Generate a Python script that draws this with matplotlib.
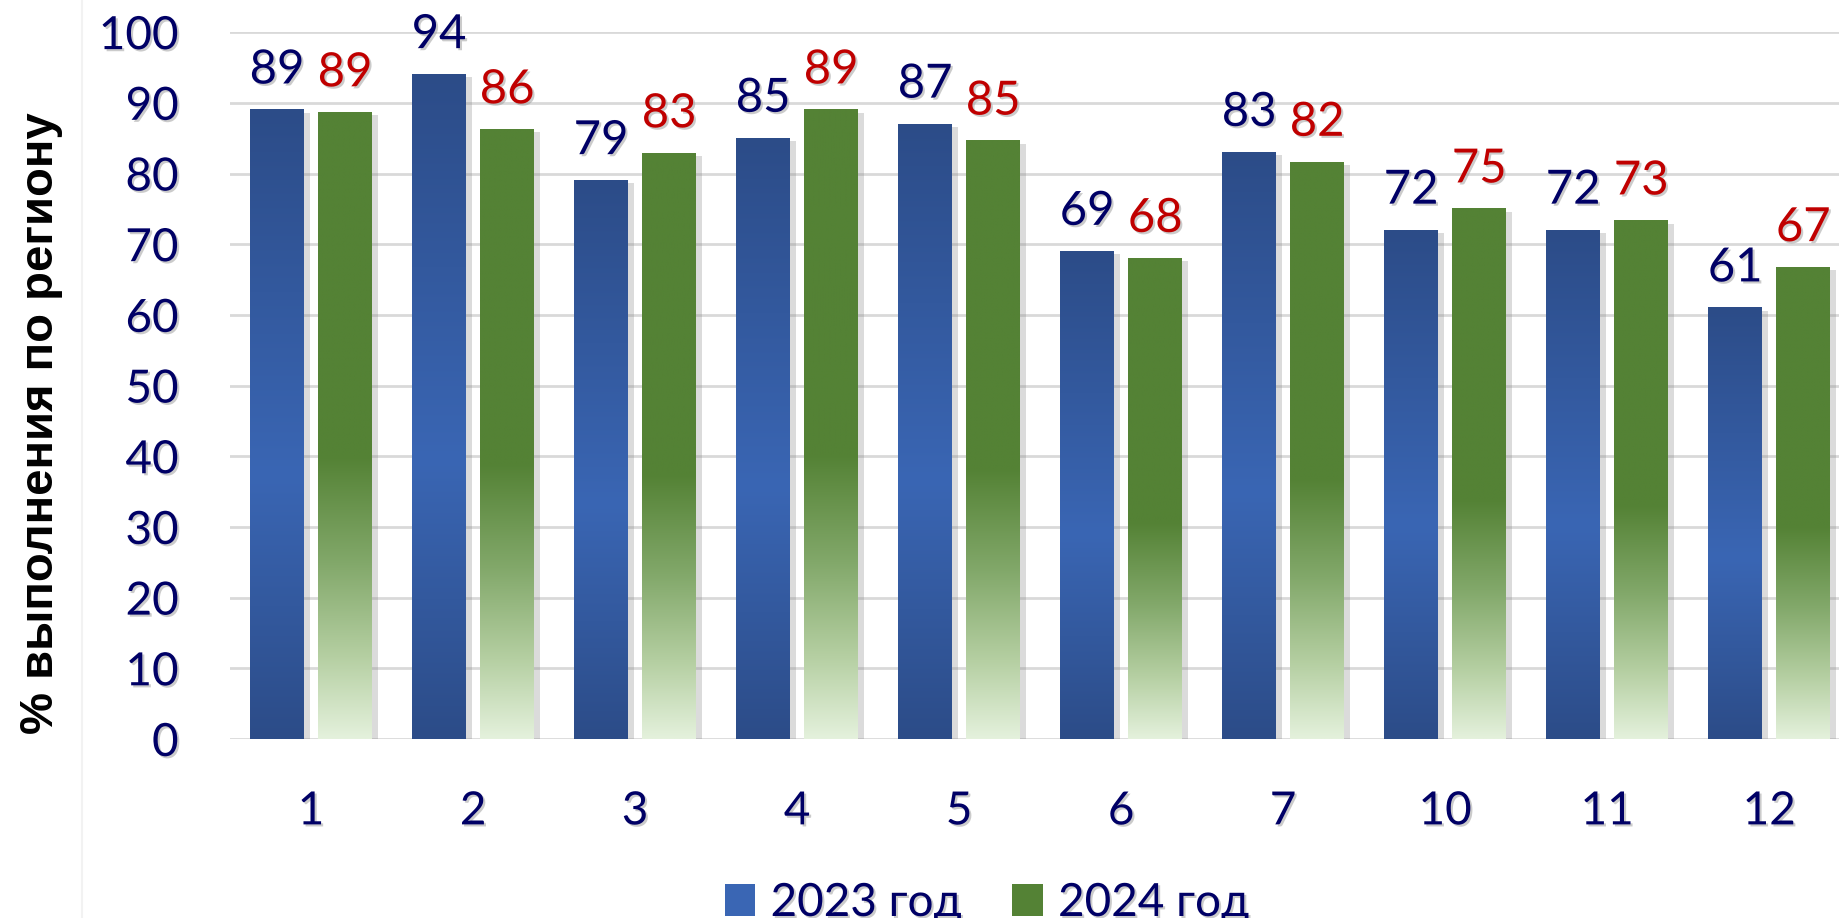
import numpy as np
import matplotlib
matplotlib.use('Agg')
import matplotlib.pyplot as plt
import matplotlib.patheffects as pe
from matplotlib.colors import LinearSegmentedColormap
from matplotlib.patches import Patch
from matplotlib.lines import Line2D

# data
regions = ['1', '2', '3', '4', '5', '6', '7', '10', '11', '12']
y2023 = [89, 94, 79, 85, 87, 69, 83, 72, 72, 61]
y2024 = [88.6, 86.2, 82.8, 89.0, 84.6, 68.0, 81.6, 75.0, 73.3, 66.7]
labels2023 = ['89', '94', '79', '85', '87', '69', '83', '72', '72', '61']
labels2024 = ['89', '86', '83', '89', '85', '68', '82', '75', '73', '67']

navy = '#000066'
red = '#C00000'

blue_cmap = LinearSegmentedColormap.from_list(
    'b', [(0, '#2C4C88'), (0.58, '#3A66B4'), (1, '#2C4C88')])
green_cmap = LinearSegmentedColormap.from_list(
    'g', [(0, '#548235'), (0.55, '#548235'), (0.72, '#82A86A'),
          (0.87, '#B5CFA2'), (1, '#E4F1DC')])

plt.rcParams['font.family'] = ['Lato', 'DejaVu Sans']

fig = plt.figure(figsize=(18.39, 9.18), dpi=100)
ax = fig.add_axes([0.1251, 0.195, 0.881, 0.770])

x = np.arange(len(regions))
w = 0.333
off = 0.21

shadow = [pe.SimplePatchShadow(offset=(4, -2), shadow_rgbFace='#888888', alpha=0.3), pe.Normal()]
b1 = ax.bar(x - off, y2023, w, color='#3A66B4', zorder=2, path_effects=shadow)
b2 = ax.bar(x + off, y2024, w, color='#548235', zorder=2, path_effects=shadow)

grad = np.linspace(0, 1, 256).reshape(-1, 1)
for bars, cm in [(b1, blue_cmap), (b2, green_cmap)]:
    for r in bars:
        x0 = r.get_x()
        ax.imshow(cm(grad), extent=[x0, x0 + r.get_width(), 0, r.get_height()],
                  aspect='auto', zorder=3, interpolation='bilinear')

txt_shadow = [pe.withSimplePatchShadow(offset=(1.5, -1.5), shadow_rgbFace='#999999', alpha=0.5)]
for r, lab in zip(b1, labels2023):
    ax.annotate(lab, (r.get_x() + r.get_width() / 2, r.get_height()), xytext=(0, 19),
                textcoords='offset points', ha='center', va='baseline',
                fontsize=34, color=navy, path_effects=txt_shadow, zorder=5)
for r, lab in zip(b2, labels2024):
    ax.annotate(lab, (r.get_x() + r.get_width() / 2, r.get_height()), xytext=(0, 19),
                textcoords='offset points', ha='center', va='baseline',
                fontsize=34, color=red, path_effects=txt_shadow, zorder=5)

ax.set_xlim(-0.5, len(regions) - 0.5)
ax.set_ylim(0, 100)
ax.set_yticks(range(0, 101, 10))
ax.set_xticks(x)
ax.set_xticklabels(regions)
ax.tick_params(length=0, labelsize=33, labelcolor=navy)
ax.tick_params(axis='y', pad=37)
ax.tick_params(axis='x', pad=37)
for t in ax.get_xticklabels() + ax.get_yticklabels():
    t.set_path_effects(txt_shadow)
ax.grid(axis='y', color='#D9D9D9', lw=2, zorder=0)
ax.set_axisbelow(True)
for s in ax.spines.values():
    s.set_visible(False)

fig.text(41 / 1839, 1 - 423 / 918, '% выполнения по региону', rotation=90,
         ha='center', va='center', fontsize=34, fontweight='bold',
         family='Liberation Sans', color='black')

fig.add_artist(Line2D([82 / 1839, 82 / 1839], [0, 1], color='#F2F2F2', lw=1.5))

handles = [Patch(facecolor='#3A66B4'), Patch(facecolor='#548235')]
leg = fig.legend(handles, ['2023 год', '2024 год'], loc='center', ncol=2,
                 bbox_to_anchor=(987 / 1839, 1 - 903 / 918), frameon=False,
                 fontsize=33, handlelength=0.67, handleheight=0.67,
                 handletextpad=0.33, columnspacing=1.1, borderpad=0)
for t in leg.get_texts():
    t.set_color(navy)
    t.set_path_effects(txt_shadow)

fig.savefig('out.png', dpi=100)
